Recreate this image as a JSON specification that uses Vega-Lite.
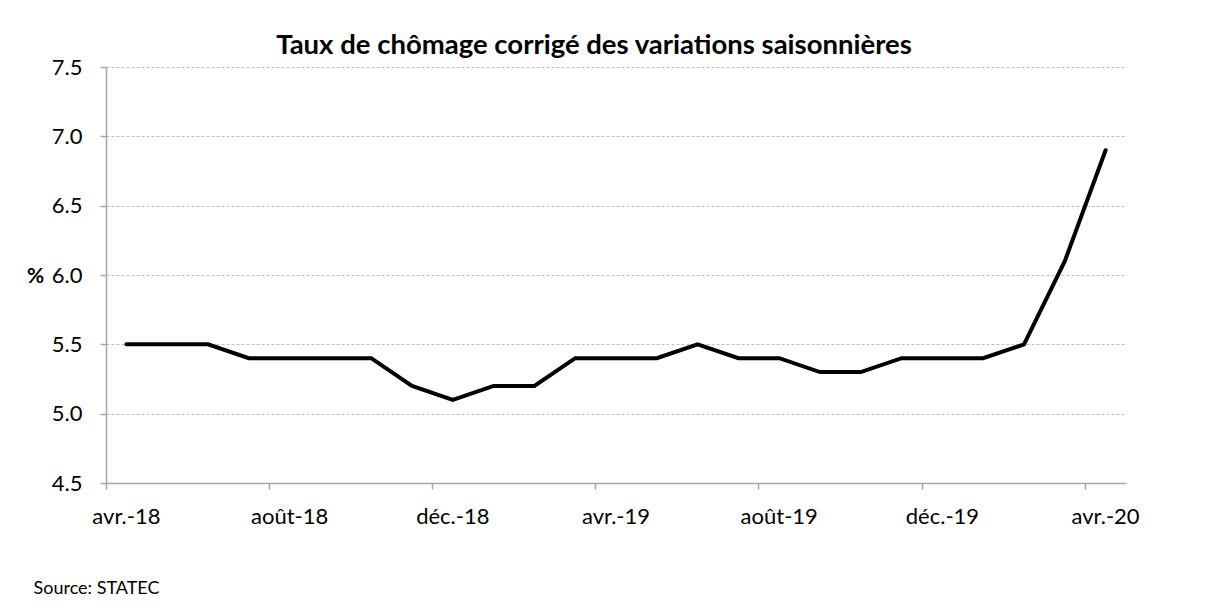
{
  "$schema": "https://vega.github.io/schema/vega-lite/v6.json",
  "width": 1020,
  "height": 416,
  "autosize": "none",
  "padding": {"left": 106, "top": 67, "right": 98, "bottom": 133},
  "background": "white",
  "config": {
    "font": "Lato",
    "view": {"stroke": null}
  },
  "title": {
    "text": "Taux de chômage corrigé des variations saisonnières",
    "fontSize": 27.5,
    "fontWeight": "bold",
    "font": "Lato",
    "color": "#000000",
    "anchor": "middle",
    "baseline": "alphabetic",
    "dx": -22,
    "offset": -25
  },
  "data": {
    "values": [
      {"mois": "avr.-18", "taux": 5.5},
      {"mois": "mai-18", "taux": 5.5},
      {"mois": "juin-18", "taux": 5.5},
      {"mois": "juil.-18", "taux": 5.4},
      {"mois": "août-18", "taux": 5.4},
      {"mois": "sept.-18", "taux": 5.4},
      {"mois": "oct.-18", "taux": 5.4},
      {"mois": "nov.-18", "taux": 5.2},
      {"mois": "déc.-18", "taux": 5.1},
      {"mois": "janv.-19", "taux": 5.2},
      {"mois": "févr.-19", "taux": 5.2},
      {"mois": "mars-19", "taux": 5.4},
      {"mois": "avr.-19", "taux": 5.4},
      {"mois": "mai-19", "taux": 5.4},
      {"mois": "juin-19", "taux": 5.5},
      {"mois": "juil.-19", "taux": 5.4},
      {"mois": "août-19", "taux": 5.4},
      {"mois": "sept.-19", "taux": 5.3},
      {"mois": "oct.-19", "taux": 5.3},
      {"mois": "nov.-19", "taux": 5.4},
      {"mois": "déc.-19", "taux": 5.4},
      {"mois": "janv.-20", "taux": 5.4},
      {"mois": "févr.-20", "taux": 5.5},
      {"mois": "mars-20", "taux": 6.1},
      {"mois": "avr.-20", "taux": 6.9}
    ]
  },
  "mark": {"type": "line", "color": "#000000", "strokeWidth": 4, "strokeJoin": "miter", "strokeCap": "round"},
  "encoding": {
    "x": {
      "field": "mois",
      "type": "ordinal",
      "sort": null,
      "bandPosition": 0.5,
      "scale": {"type": "band", "paddingInner": 0, "paddingOuter": 0},
      "axis": {
        "values": ["avr.-18", "août-18", "déc.-18", "avr.-19", "août-19", "déc.-19", "avr.-20"],
        "bandPosition": 0,
        "labelAngle": 0,
        "labelFontSize": 22,
        "labelColor": "#000000",
        "labelPadding": 17,
        "labelBaseline": "top",
        "domainColor": "#a6a6a6",
        "domainWidth": 1.5,
        "tickColor": "#a6a6a6",
        "tickWidth": 1.5,
        "tickSize": 6,
        "grid": false,
        "title": "Source: STATEC",
        "titleFontSize": 18,
        "titleFontWeight": "normal",
        "titleColor": "#000000",
        "titleAnchor": "start",
        "titleAlign": "left",
        "titleBaseline": "middle",
        "titleX": -73,
        "titleY": 105
      }
    },
    "y": {
      "field": "taux",
      "type": "quantitative",
      "scale": {"domain": [4.5, 7.5], "nice": false, "zero": false},
      "axis": {
        "values": [4.5, 5, 5.5, 6, 6.5, 7, 7.5],
        "format": ".1f",
        "labelFontSize": 22,
        "labelColor": "#000000",
        "labelPadding": 18,
        "domainColor": "#a6a6a6",
        "domainWidth": 1.5,
        "tickColor": "#a6a6a6",
        "tickWidth": 1.5,
        "tickSize": 6,
        "grid": true,
        "gridColor": "#c0c0c0",
        "gridDash": [3, 2],
        "gridWidth": 1.2,
        "title": "%",
        "titleAngle": 0,
        "titleFontSize": 21,
        "titleFontWeight": "bold",
        "titleColor": "#000000",
        "titleAlign": "center",
        "titleBaseline": "middle",
        "titleX": -71,
        "titleY": 209
      }
    }
  }
}
